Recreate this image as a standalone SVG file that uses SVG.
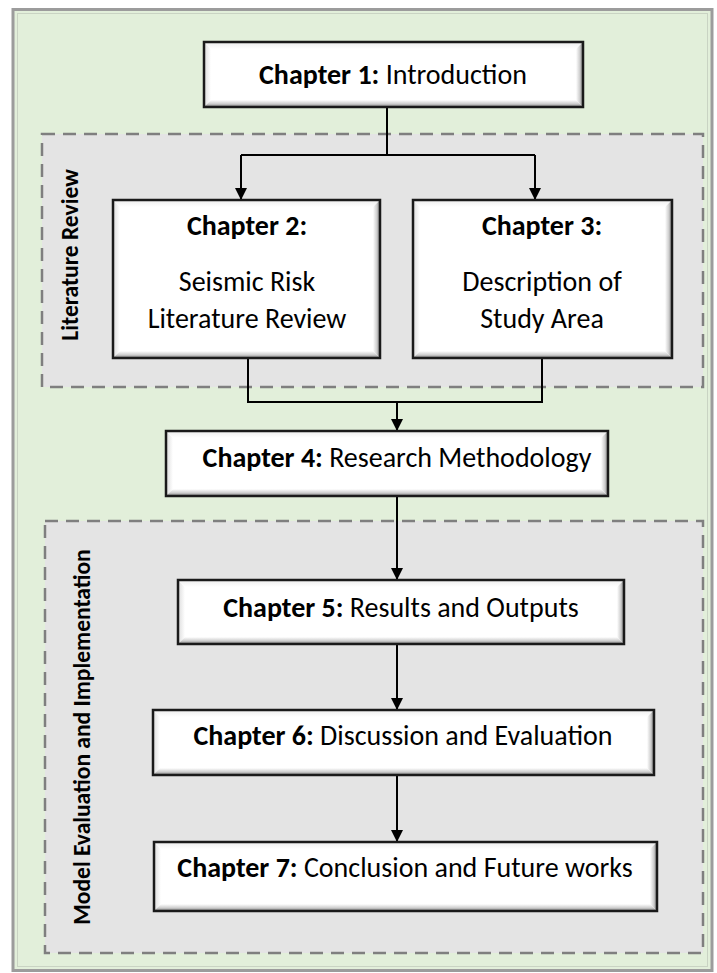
<svg xmlns="http://www.w3.org/2000/svg" width="717" height="973" viewBox="0 0 717 973">
<defs>
<linearGradient id="gB" x1="0" y1="0" x2="0" y2="1"><stop offset="0" stop-color="#ffffff"/><stop offset="0.5" stop-color="#d2d2d2"/><stop offset="1" stop-color="#858585"/></linearGradient>
<linearGradient id="gR" x1="0" y1="0" x2="1" y2="0"><stop offset="0" stop-color="#ffffff"/><stop offset="0.5" stop-color="#d2d2d2"/><stop offset="1" stop-color="#858585"/></linearGradient>
<linearGradient id="gL" x1="1" y1="0" x2="0" y2="0"><stop offset="0" stop-color="#ffffff"/><stop offset="1" stop-color="#dcdcdc"/></linearGradient>
<linearGradient id="gT" x1="0" y1="1" x2="0" y2="0"><stop offset="0" stop-color="#ffffff"/><stop offset="1" stop-color="#ededed"/></linearGradient>
<marker id="arr" viewBox="0 0 12 12" refX="12" refY="6" markerWidth="12" markerHeight="12" markerUnits="userSpaceOnUse" orient="auto"><path d="M0,0 L12,6 L0,12 Z" fill="#000"/></marker>
</defs>
<style>
.frame{fill:#E2EFDA;stroke:#9c9c9c;stroke-width:3}
.group{fill:#E4E4E4;stroke:#7f7f7f;stroke-width:2.5;stroke-dasharray:13 8}
.box{fill:none;stroke:#1a1a1a;stroke-width:2.5}
.bg{fill:#ffffff}
.t{font-family:Carlito,Lato,"Liberation Sans",sans-serif;font-size:28px;fill:#000;text-anchor:middle}
.b{font-weight:bold}
.v{font-family:Carlito,Lato,"Liberation Sans",sans-serif;font-size:23.5px;font-weight:bold;fill:#000;text-anchor:middle}
.c{fill:none;stroke:#000;stroke-width:2}
</style>
<rect class="frame" x="13" y="9.5" width="699" height="961"/>
<rect x="17.5" y="13.5" width="690" height="953" fill="none" stroke="#c9d3c3" stroke-width="1"/>

<g id="literature-review">
<rect class="group" x="42" y="134" width="661" height="253"/>
<text class="v" transform="translate(78,255) rotate(-90)">Literature Review</text>
</g>
<g id="model-evaluation">
<rect class="group" x="45" y="521" width="658" height="432"/>
<text class="v" transform="translate(90,737) rotate(-90)">Model Evaluation and Implementation</text>
</g>

<g id="connectors">
<path class="c" d="M387,107 V155 M241,155 H535"/>
<path class="c" d="M241,155 V200" marker-end="url(#arr)"/>
<path class="c" d="M535,155 V200" marker-end="url(#arr)"/>
<path class="c" d="M248,358 V402 H542 V358"/>
<path class="c" d="M397,402 V431" marker-end="url(#arr)"/>
<path class="c" d="M397,496 V580" marker-end="url(#arr)"/>
<path class="c" d="M397,644 V710" marker-end="url(#arr)"/>
<path class="c" d="M397,775 V842" marker-end="url(#arr)"/>
</g>

<g id="ch1">
<rect class="bg" x="204" y="42" width="379" height="65"/>
<polygon fill="url(#gL)" points="204,42 211,49 211,100 204,107"/>
<polygon fill="url(#gT)" points="204,42 583,42 576,49 211,49"/>
<polygon fill="url(#gB)" points="204,107 583,107 576,100 211,100"/>
<polygon fill="url(#gR)" points="583,42 583,107 576,100 576,49"/>
<rect class="box" x="204" y="42" width="379" height="65"/>
<text class="t" x="393" y="84"><tspan class="b">Chapter 1:</tspan> Introduction</text>
</g>

<g id="ch2">
<rect class="bg" x="113" y="200" width="267" height="158"/>
<polygon fill="url(#gL)" points="113,200 120,207 120,351 113,358"/>
<polygon fill="url(#gT)" points="113,200 380,200 373,207 120,207"/>
<polygon fill="url(#gB)" points="113,358 380,358 373,351 120,351"/>
<polygon fill="url(#gR)" points="380,200 380,358 373,351 373,207"/>
<rect class="box" x="113" y="200" width="267" height="158"/>
<text class="t b" x="247" y="235">Chapter 2:</text>
<text class="t" x="247" y="291">Seismic Risk</text>
<text class="t" x="247" y="328">Literature Review</text>
</g>

<g id="ch3">
<rect class="bg" x="413" y="200" width="259" height="158"/>
<polygon fill="url(#gL)" points="413,200 420,207 420,351 413,358"/>
<polygon fill="url(#gT)" points="413,200 672,200 665,207 420,207"/>
<polygon fill="url(#gB)" points="413,358 672,358 665,351 420,351"/>
<polygon fill="url(#gR)" points="672,200 672,358 665,351 665,207"/>
<rect class="box" x="413" y="200" width="259" height="158"/>
<text class="t b" x="542" y="235">Chapter 3:</text>
<text class="t" x="542" y="291">Description of</text>
<text class="t" x="542" y="328">Study Area</text>
</g>

<g id="ch4">
<rect class="bg" x="166" y="431" width="442" height="65"/>
<polygon fill="url(#gL)" points="166,431 173,438 173,489 166,496"/>
<polygon fill="url(#gT)" points="166,431 608,431 601,438 173,438"/>
<polygon fill="url(#gB)" points="166,496 608,496 601,489 173,489"/>
<polygon fill="url(#gR)" points="608,431 608,496 601,489 601,438"/>
<rect class="box" x="166" y="431" width="442" height="65"/>
<text class="t" x="397" y="467"><tspan class="b">Chapter 4:</tspan> Research Methodology</text>
</g>

<g id="ch5">
<rect class="bg" x="178" y="580" width="446" height="64"/>
<polygon fill="url(#gL)" points="178,580 185,587 185,637 178,644"/>
<polygon fill="url(#gT)" points="178,580 624,580 617,587 185,587"/>
<polygon fill="url(#gB)" points="178,644 624,644 617,637 185,637"/>
<polygon fill="url(#gR)" points="624,580 624,644 617,637 617,587"/>
<rect class="box" x="178" y="580" width="446" height="64"/>
<text class="t" x="401" y="617"><tspan class="b">Chapter 5:</tspan> Results and Outputs</text>
</g>

<g id="ch6">
<rect class="bg" x="153" y="710" width="501" height="65"/>
<polygon fill="url(#gL)" points="153,710 160,717 160,768 153,775"/>
<polygon fill="url(#gT)" points="153,710 654,710 647,717 160,717"/>
<polygon fill="url(#gB)" points="153,775 654,775 647,768 160,768"/>
<polygon fill="url(#gR)" points="654,710 654,775 647,768 647,717"/>
<rect class="box" x="153" y="710" width="501" height="65"/>
<text class="t" x="403" y="745"><tspan class="b">Chapter 6:</tspan> Discussion and Evaluation</text>
</g>

<g id="ch7">
<rect class="bg" x="154" y="842" width="503" height="69"/>
<polygon fill="url(#gL)" points="154,842 161,849 161,904 154,911"/>
<polygon fill="url(#gT)" points="154,842 657,842 650,849 161,849"/>
<polygon fill="url(#gB)" points="154,911 657,911 650,904 161,904"/>
<polygon fill="url(#gR)" points="657,842 657,911 650,904 650,849"/>
<rect class="box" x="154" y="842" width="503" height="69"/>
<text class="t" x="405" y="877"><tspan class="b">Chapter 7:</tspan> Conclusion and Future works</text>
</g>
</svg>
